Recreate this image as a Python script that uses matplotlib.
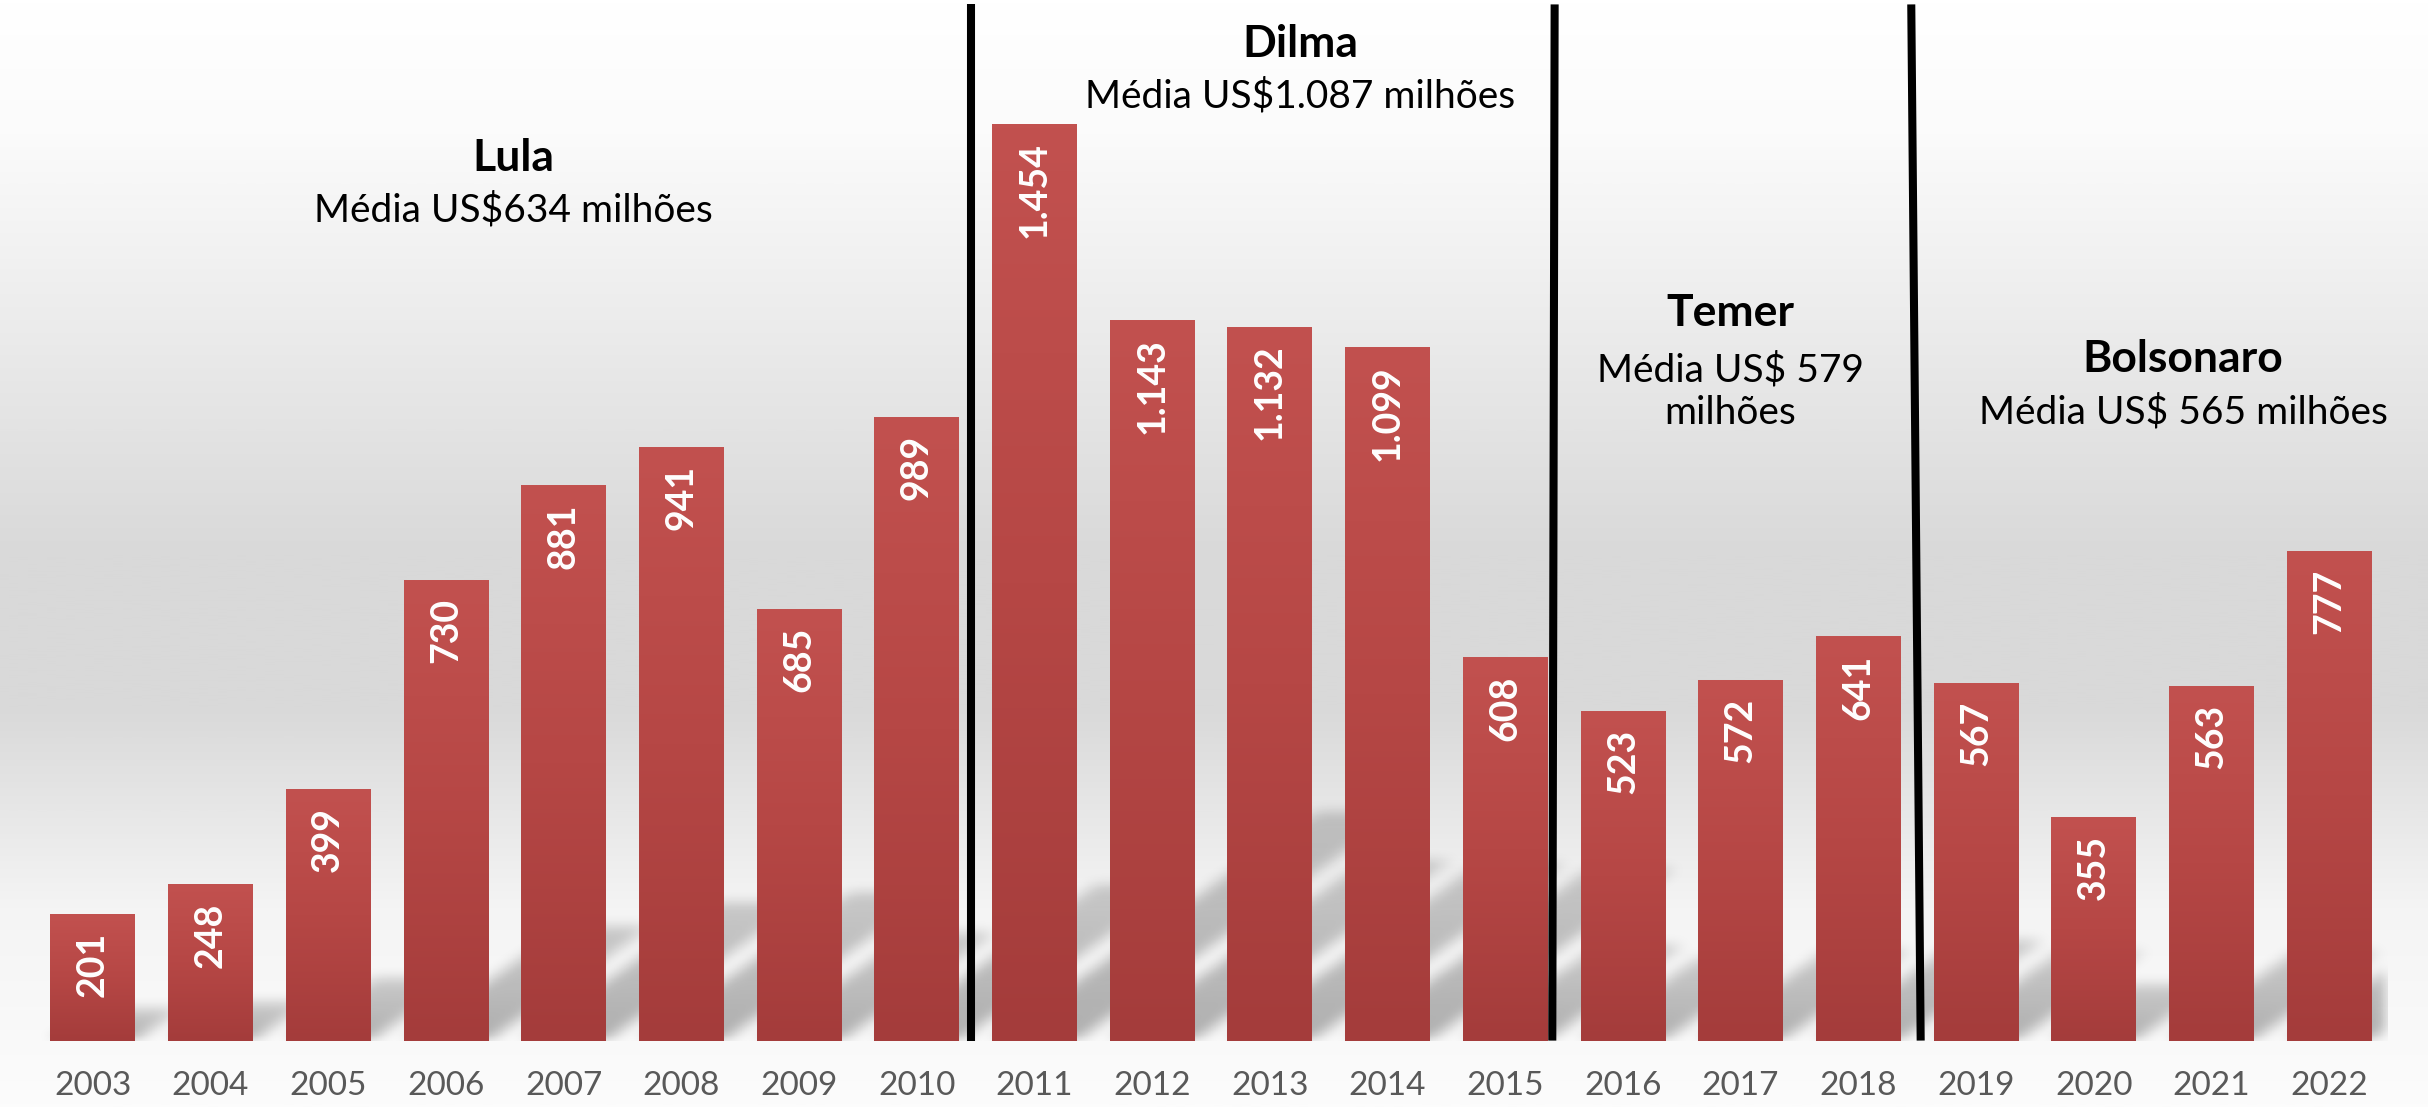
import numpy as np
import matplotlib
matplotlib.use("Agg")
import matplotlib.pyplot as plt
from matplotlib.colors import LinearSegmentedColormap

plt.rcParams['font.family'] = ['Lato', 'DejaVu Sans']

years = [str(y) for y in range(2003, 2023)]
values = [201, 248, 399, 730, 881, 941, 685, 989, 1454, 1143,
          1132, 1099, 608, 523, 572, 641, 567, 355, 563, 777]
labels = ['201', '248', '399', '730', '881', '941', '685', '989', '1.454', '1.143',
          '1.132', '1.099', '608', '523', '572', '641', '567', '355', '563', '777']

presidents = ['Lula', 'Dilma', 'Temer', 'Bolsonaro']
averages = ['Média US$634 milhões', 'Média US$1.087 milhões',
            'Média US$ 579\nmilhões', 'Média US$ 565 milhões']


def blur(a, k):
    ker = np.ones(k) / k
    for _ in range(3):
        a = np.apply_along_axis(lambda r: np.convolve(r, ker, mode='same'), 1, a)
        a = np.apply_along_axis(lambda c: np.convolve(c, ker, mode='same'), 0, a)
    return a


def main():
    fig = plt.figure(figsize=(24.28, 11.07), dpi=100)

    # background gradient
    bg = fig.add_axes([0, 0, 1, 1])
    bg.axis('off')
    bg_cmap = LinearSegmentedColormap.from_list(
        'bg', [(0.0, '#ffffff'), (0.12, '#fbfbfb'), (0.5, '#d9d9d9'), (0.64, '#d9d9d9'),
               (0.82, '#f4f4f4'), (1.0, '#fcfcfc')])
    bg.imshow(np.linspace(0, 1, 512).reshape(-1, 1), cmap=bg_cmap, aspect='auto',
              extent=[0, 1, 0, 1], origin='upper')
    bg.set_xlim(0, 1)
    bg.set_ylim(0, 1)

    ax = fig.add_axes([0.014, 0.06, 0.9695, 0.94])
    ax.patch.set_alpha(0)
    x = np.arange(len(values))
    width = 0.72

    # soft floor shadows
    nx, ny = 1400, 260
    xs = np.linspace(-0.5, 19.5, nx)
    ys = np.linspace(0, 520, ny)
    X, Y = np.meshgrid(xs, ys)
    mask = np.zeros_like(X)
    for i, v in enumerate(values):
        hs = 0.25 * v
        dx = 0.0019 * v
        t = Y / hs
        inside = (t <= 1) & (X >= i - width / 2 + t * dx) & (X <= i + width / 2 + t * dx)
        mask = np.maximum(mask, inside * (1 - 0.4 * t))
    mask = blur(mask, 9)
    rgba = np.zeros((ny, nx, 4))
    rgba[..., 3] = np.clip(mask, 0, 1) * 0.3
    ax.imshow(rgba, extent=[-0.5, 19.5, 0, 520], origin='lower', aspect='auto', zorder=1)

    # bars with vertical gradient
    bar_cmap = LinearSegmentedColormap.from_list('bar', ['#a43c3b', '#b64745', '#c2514f'])
    bars = ax.bar(x, values, width=width, color='none', edgecolor='none', zorder=2)
    grad = np.linspace(0, 1, 256).reshape(-1, 1)
    for b in bars:
        im = ax.imshow(grad, cmap=bar_cmap, origin='lower', aspect='auto', zorder=2,
                       extent=[b.get_x(), b.get_x() + b.get_width(), 0, b.get_height()])
        im.set_clip_path(b)

    for xi, v, lab in zip(x, values, labels):
        ax.annotate(lab, (xi, v), xytext=(0, -13), textcoords='offset points',
                    rotation=90, ha='center', va='top', color='white',
                    fontsize=27, fontweight='bold', zorder=3)

    # separators between presidencies
    seps = [(7.46, 7.46), (12.42, 12.40), (15.45, 15.53)]
    for xt, xb in seps:
        ax.plot([xb, xt], [0, 1643], color='black', lw=5.8, solid_capstyle='butt', zorder=4)

    head_x = [3.57, 10.26, 13.91, 17.76]
    head_y = [1400, 1581, 1154, 1081]
    sub_y = [1316, 1498, 1029, 997]
    for name, avg, hx, hy, sy in zip(presidents, averages, head_x, head_y, sub_y):
        ax.text(hx, hy, name, ha='center', va='center', fontsize=32, fontweight='bold',
                color='black', zorder=5)
        ax.text(hx, sy, avg, ha='center', va='center', fontsize=28, color='black',
                linespacing=1.2, zorder=5)

    ax.set_xlim(-0.5, 19.5)
    ax.set_ylim(0, 1650)
    ax.set_xticks(x)
    ax.set_xticklabels(years, fontsize=24, color='#595959')
    ax.tick_params(axis='x', length=0, pad=22)
    ax.set_yticks([])
    for s in ax.spines.values():
        s.set_visible(False)

    fig.savefig('out.png', dpi=100)


if __name__ == "__main__":
    main()
